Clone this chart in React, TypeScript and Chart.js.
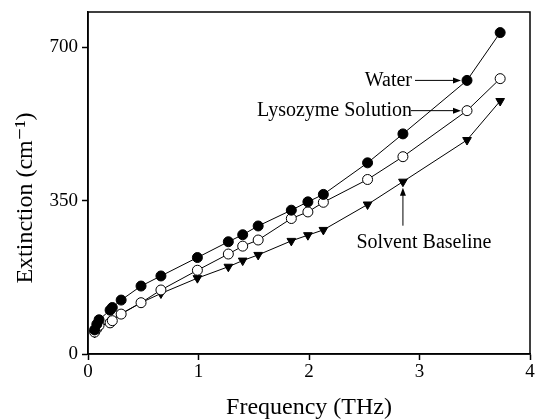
import React, { useEffect, useRef } from "react";
import { Chart, registerables } from "chart.js";

Chart.register(...registerables);

const freq = [0.06, 0.08, 0.1, 0.2, 0.22, 0.3, 0.48, 0.66, 0.99, 1.27, 1.4, 1.54, 1.84, 1.99, 2.13, 2.53, 2.85, 3.43, 3.73];
const water = [55, 68, 78, 100, 106, 123, 155, 178, 220, 256, 272, 292, 328, 347, 364, 436, 502, 624, 733];
const lysozyme = [50, 58, 65, 71, 76, 91, 117, 146, 191, 228, 246, 260, 309, 324, 346, 398, 450, 555, 628];
const solvent = [48, 56, 63, 72, 78, 92, 117, 138, 173, 199, 213, 226, 258, 271, 283, 341, 393, 488, 577];
const yTicks = [0, 350, 700];
const xTicks = [0, 1, 2, 3, 4];
const seriesNames = ["Water", "Lysozyme Solution", "Solvent Baseline"];
const yTitle = "Extinction (cm\u207B\u00B9)";
const xTitle = "Frequency (THz)";

const FONT = "'Liberation Serif', 'DejaVu Serif', serif";

function drawArrow(ctx: CanvasRenderingContext2D, x1: number, y1: number, x2: number, y2: number) {
  const ang = Math.atan2(y2 - y1, x2 - x1);
  const len = 8;
  const w = 3;
  ctx.beginPath();
  ctx.moveTo(x1, y1);
  ctx.lineTo(x2 - Math.cos(ang) * len * 0.8, y2 - Math.sin(ang) * len * 0.8);
  ctx.stroke();
  ctx.beginPath();
  ctx.moveTo(x2, y2);
  ctx.lineTo(x2 - Math.cos(ang) * len - Math.sin(ang) * w, y2 - Math.sin(ang) * len + Math.cos(ang) * w);
  ctx.lineTo(x2 - Math.cos(ang) * len + Math.sin(ang) * w, y2 - Math.sin(ang) * len - Math.cos(ang) * w);
  ctx.closePath();
  ctx.fill();
}

const framePlugin = {
  id: "frame",
  afterDraw(chart: any) {
    const { ctx, chartArea } = chart;
    const xs = chart.scales.x;
    const ys = chart.scales.y;
    ctx.save();
    ctx.strokeStyle = "#000";
    ctx.lineWidth = 1.5;
    ctx.strokeRect(chartArea.left, chartArea.top, chartArea.right - chartArea.left, chartArea.bottom - chartArea.top);

    ctx.fillStyle = "#000";

    // y-axis title, centred a little below the middle of the axis as in the reference
    ctx.save();
    ctx.font = `24px ${FONT}`;
    ctx.textAlign = "center";
    ctx.textBaseline = "middle";
    ctx.translate(26, (chartArea.top + chartArea.bottom) / 2 + 15);
    ctx.rotate(-Math.PI / 2);
    ctx.fillText(yTitle, 0, 0);
    ctx.restore();

    ctx.lineWidth = 1;
    ctx.font = `20px ${FONT}`;
    ctx.textBaseline = "middle";

    // Water annotation -> point index 17
    const wi = 17;
    const wx = xs.getPixelForValue(freq[wi]);
    const wy = ys.getPixelForValue(water[wi]);
    ctx.textAlign = "right";
    ctx.fillText(seriesNames[0], wx - 55, wy);
    drawArrow(ctx, wx - 52, wy, wx - 6, wy);

    // Lysozyme annotation
    const lx = xs.getPixelForValue(freq[wi]);
    const ly = ys.getPixelForValue(lysozyme[wi]);
    ctx.fillText(seriesNames[1], lx - 55, ly);
    drawArrow(ctx, lx - 56, ly, lx - 6, ly);

    // Solvent annotation -> point index 16
    const si = 16;
    const sx = xs.getPixelForValue(freq[si]);
    const sy = ys.getPixelForValue(solvent[si]);
    ctx.textAlign = "center";
    ctx.fillText(seriesNames[2], sx + 21, sy + 61);
    drawArrow(ctx, sx, sy + 44, sx, sy + 6);
    ctx.restore();
  },
};

export default function App() {
  const ref = useRef<HTMLCanvasElement>(null);
  useEffect(() => {
    document.body.style.margin = "0";
    const ctx = ref.current!.getContext("2d")!;
    const mk = (arr: number[]) => freq.map((f, i) => ({ x: f, y: arr[i] }));
    const chart = new Chart(ctx, {
      type: "scatter",
      data: {
        datasets: [
          {
            label: seriesNames[0],
            data: mk(water),
            showLine: true,
            borderColor: "#000",
            borderWidth: 1,
            backgroundColor: "#000",
            pointBackgroundColor: "#000",
            pointBorderColor: "#000",
            pointRadius: 5,
            pointStyle: "circle",
          },
          {
            label: seriesNames[1],
            data: mk(lysozyme),
            showLine: true,
            borderColor: "#000",
            borderWidth: 1,
            backgroundColor: "#fff",
            pointBackgroundColor: "#fff",
            pointBorderColor: "#000",
            pointBorderWidth: 1,
            pointRadius: 5,
            pointStyle: "circle",
          },
          {
            label: seriesNames[2],
            data: mk(solvent),
            showLine: true,
            borderColor: "#000",
            borderWidth: 1,
            backgroundColor: "#000",
            pointBackgroundColor: "#000",
            pointBorderColor: "#000",
            pointRadius: 5,
            pointStyle: "triangle",
            pointRotation: 180,
          },
        ],
      },
      options: {
        animation: false,
        responsive: false,
        maintainAspectRatio: false,
        layout: { padding: { top: 12, right: 4, left: 0, bottom: 0 } },
        plugins: { legend: { display: false }, tooltip: { enabled: false } },
        scales: {
          x: {
            type: "linear",
            min: 0,
            max: 4,
            afterBuildTicks: (s: any) => {
              s.ticks = xTicks.map((v) => ({ value: v }));
            },
            afterFit: (s: any) => {
              s.height = 66;
              s.paddingRight = 0;
              s.paddingLeft = 0;
            },
            ticks: { color: "#000", font: { family: FONT, size: 19 }, padding: 1, maxRotation: 0 },
            grid: { drawOnChartArea: false, drawTicks: true, tickLength: 6, color: "#000", tickWidth: 1.5 },
            border: { display: true, color: "#000", width: 1.5 },
            title: {
              display: true,
              text: xTitle,
              color: "#000",
              font: { family: FONT, size: 24 },
              padding: { top: 0, bottom: -2 },
            },
          },
          y: {
            type: "linear",
            min: 0,
            max: 780,
            afterBuildTicks: (s: any) => {
              s.ticks = yTicks.map((v) => ({ value: v }));
            },
            afterFit: (s: any) => {
              s.width = 88;
              s.paddingTop = 0;
              s.paddingBottom = 0;
            },
            ticks: { color: "#000", font: { family: FONT, size: 19 }, padding: 4 },
            grid: { drawOnChartArea: false, drawTicks: true, tickLength: 6, color: "#000", tickWidth: 1.5 },
            border: { display: true, color: "#000", width: 1.5 },
            title: { display: false },
          },
        },
      },
      plugins: [framePlugin],
    });
    return () => chart.destroy();
  }, []);
  return (
    <div style={{ width: 536, height: 420, background: "#fff" }}>
      <canvas ref={ref} width={536} height={420} style={{ width: 536, height: 420 }} />
    </div>
  );
}
